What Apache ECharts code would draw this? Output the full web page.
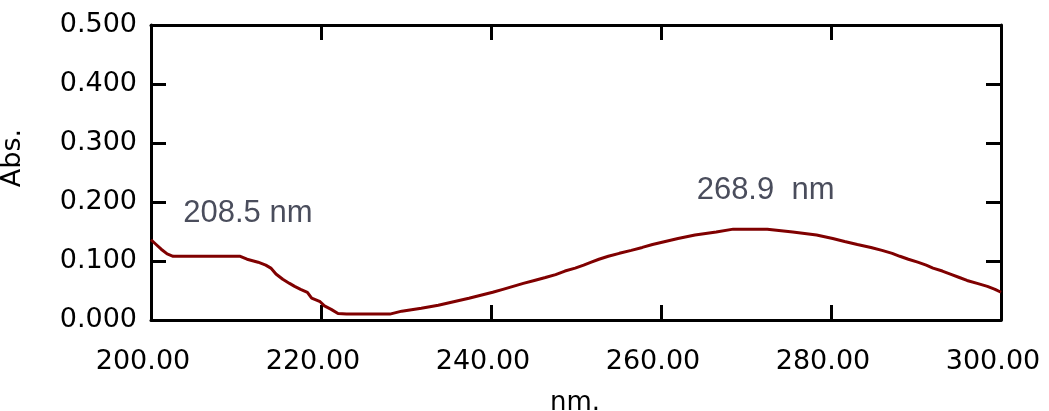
<!DOCTYPE html>
<html>
<head>
<meta charset="utf-8">
<script src="https://cdn.jsdelivr.net/npm/echarts@6/dist/echarts.min.js"></script>
<style>
  html, body { margin: 0; padding: 0; background: #fff; }
  #chart { width: 1049px; height: 411px; }
</style>
</head>
<body>
<div id="chart"></div>
<script>
// UV spectrum: wavelength (nm) vs absorbance
const wavelengths = [
  200.0, 200.6, 201.2, 201.9, 202.6, 210.5, 211.3, 212.6, 213.5, 214.1,
  214.7, 215.5, 216.3, 216.9, 217.6, 218.4, 218.9, 219.9, 220.4, 221.2,
  222.0, 223.0, 228.1, 229.5, 231.8, 233.8, 235.6, 237.4, 238.8, 240.2,
  241.4, 242.6, 243.8, 245.1, 246.4, 247.6, 248.7, 249.9, 250.9, 251.8,
  252.7, 253.8, 255.1, 256.5, 257.8, 259.0, 260.5, 262.0, 264.0, 266.5,
  268.5, 272.5, 275.5, 278.3, 280.2, 281.6, 283.1, 284.7, 286.0, 287.2,
  288.1, 289.1, 290.2, 291.2, 292.0, 293.1, 294.2, 295.1, 296.0, 297.2,
  298.4, 299.3, 300.0
];
const absorbance = [
  0.136, 0.128, 0.120, 0.112, 0.108, 0.108, 0.103, 0.098, 0.093, 0.088,
  0.078, 0.069, 0.062, 0.057, 0.052, 0.047, 0.037, 0.031, 0.024, 0.018,
  0.011, 0.010, 0.010, 0.015, 0.020, 0.025, 0.031, 0.037, 0.042, 0.047,
  0.052, 0.057, 0.062, 0.067, 0.072, 0.077, 0.083, 0.088, 0.093, 0.098,
  0.103, 0.108, 0.113, 0.118, 0.123, 0.128, 0.133, 0.138, 0.144, 0.149,
  0.154, 0.154, 0.149, 0.144, 0.138, 0.133, 0.128, 0.123, 0.118, 0.113,
  0.108, 0.103, 0.098, 0.093, 0.088, 0.083, 0.077, 0.072, 0.067, 0.062,
  0.057, 0.052, 0.047
];

// Peak annotations: wavelength and label height (Abs.)
const peakWavelengths = [208.5, 268.9];
const peakLabelLevels = [0.181, 0.219];
const peakLabels = ['208.5 nm', '268.9  nm'];

const xTicks = { min: 200, max: 300, interval: 20 };
const yTicks = { min: 0, max: 0.5, interval: 0.1 };

const tickFont = { fontFamily: 'DejaVu Sans', fontSize: 27, color: '#000' };
const frame = { show: true, onZero: false, lineStyle: { color: '#000', width: 3 } };
const inTicks = { show: true, inside: true, length: 15, lineStyle: { color: '#000', width: 3 } };

const chart = echarts.init(document.getElementById('chart'), null, { renderer: 'canvas' });

chart.setOption({
  animation: false,
  backgroundColor: '#fff',
  grid: { left: 151, top: 25, right: 48, bottom: 91, containLabel: false },
  xAxis: [
    {
      type: 'value', position: 'bottom',
      min: xTicks.min, max: xTicks.max, interval: xTicks.interval,
      axisLine: frame, axisTick: inTicks, splitLine: { show: false },
      axisLabel: Object.assign({ margin: 28, padding: [0, 16, 0, 0],
        formatter: v => v.toFixed(2) }, tickFont)
    },
    {
      type: 'value', position: 'top',
      min: xTicks.min, max: xTicks.max, interval: xTicks.interval,
      axisLine: frame, axisTick: inTicks, splitLine: { show: false },
      axisLabel: { show: false }
    }
  ],
  yAxis: [
    {
      type: 'value', position: 'left',
      min: yTicks.min, max: yTicks.max, interval: yTicks.interval,
      axisLine: frame, axisTick: inTicks, splitLine: { show: false },
      axisLabel: Object.assign({ margin: 14, formatter: v => v.toFixed(3) }, tickFont)
    },
    {
      type: 'value', position: 'right',
      min: yTicks.min, max: yTicks.max, interval: yTicks.interval,
      axisLine: frame, axisTick: inTicks, splitLine: { show: false },
      axisLabel: { show: false }
    }
  ],
  graphic: [
    {
      type: 'text', rotation: Math.PI / 2,
      x: 13, y: 158,
      style: { text: 'Abs.', font: '27px "DejaVu Sans"', fill: '#000',
        textAlign: 'center', textVerticalAlign: 'middle' }
    },
    {
      type: 'text', x: 575, y: 403,
      style: { text: 'nm.', font: '26px "DejaVu Sans"', fill: '#000',
        textAlign: 'center', textVerticalAlign: 'middle' }
    }
  ],
  series: [
    {
      type: 'line',
      data: wavelengths.map((w, i) => [w, absorbance[i]]),
      showSymbol: false,
      smooth: false,
      lineStyle: { color: '#800000', width: 3 },
      itemStyle: { color: '#800000' },
      markPoint: {
        symbol: 'circle', symbolSize: 0,
        label: {
          show: true, position: 'inside', align: 'left', offset: [-40, 0],
          fontFamily: 'Liberation Sans', fontSize: 31, color: '#4a4d5c',
          formatter: p => p.name
        },
        data: peakWavelengths.map((w, i) => ({
          name: peakLabels[i], coord: [w, peakLabelLevels[i]]
        }))
      }
    }
  ]
});
</script>
</body>
</html>
